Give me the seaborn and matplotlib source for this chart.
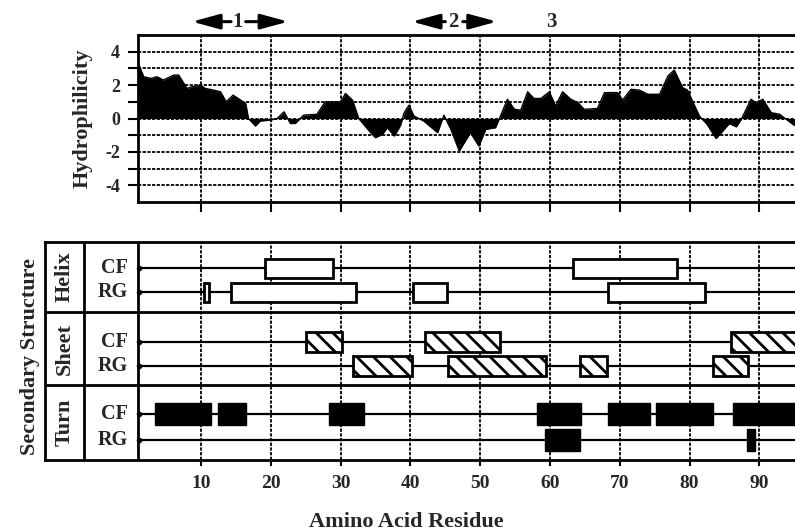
import numpy as np
import pandas as pd
import matplotlib
matplotlib.use("Agg")
import matplotlib.pyplot as plt
import seaborn as sns

# ---------------- data ----------------
residue = [1.0, 1.8, 2.8, 3.7, 4.6, 6.1, 6.8, 8.0, 8.7, 9.9, 10.6, 11.8, 12.8, 13.6,
           14.6, 16.4, 16.8, 17.8, 18.5, 19.9, 20.9, 21.9, 22.8, 23.5, 24.7, 26.6,
           27.8, 30.0, 30.7, 31.7, 32.6, 34.1, 35.0, 36.0, 36.7, 37.7, 38.6, 39.1,
           39.8, 40.5, 41.9, 43.9, 44.8, 45.8, 47.0, 48.6, 49.8, 50.8, 52.2, 53.9,
           54.9, 55.8, 56.8, 57.7, 58.7, 59.9, 60.8, 61.8, 63.0, 64.0, 64.9, 66.8,
           67.8, 69.7, 70.4, 71.6, 72.8, 74.0, 75.7, 76.9, 77.8, 79.0, 79.7, 81.4,
           82.5, 83.8, 85.7, 86.7, 87.4, 88.8, 89.5, 90.5, 91.7, 92.9, 94.8, 95.2]
hydrophilicity = [3.3, 2.5, 2.4, 2.5, 2.3, 2.6, 2.6, 1.8, 1.9, 2.0, 1.8, 1.7, 1.6, 1.0,
                  1.4, 0.9, 0.0, -0.45, -0.15, -0.1, 0.0, 0.4, -0.3, -0.3, 0.2, 0.25,
                  1.0, 1.0, 1.5, 1.1, 0.0, -0.75, -1.15, -0.95, -0.55, -1.05, -0.4, 0.35,
                  0.8, 0.15, -0.15, -0.85, 0.2, -0.65, -1.95, -0.85, -1.65, -0.65, -0.55, 1.15,
                  0.55, 0.5, 1.6, 1.2, 1.2, 1.6, 0.75, 1.6, 1.15, 0.95, 0.55, 0.6,
                  1.55, 1.55, 1.1, 1.75, 1.7, 1.45, 1.45, 2.55, 2.9, 1.85, 1.7, 0.15,
                  -0.35, -1.2, -0.3, -0.5, -0.05, 1.15, 0.95, 1.15, 0.35, 0.25, -0.35, -0.45]

helix_cf = [(19.2, 28.9), (63.3, 78.2)]
helix_rg = [(10.4, 11.2), (14.3, 32.2), (40.4, 45.2), (68.3, 82.2)]
sheet_cf = [(25.1, 30.2), (42.1, 52.8), (85.9, 97.0)]
sheet_rg = [(31.8, 40.2), (45.4, 59.4), (64.3, 68.2), (83.4, 88.3)]
turn_cf = [(3.4, 11.5), (12.4, 16.4), (28.3, 33.3), (58.1, 64.4), (68.3, 74.3),
           (75.2, 83.3), (86.2, 97.0)]
turn_rg = [(59.3, 64.3), (88.2, 89.3)]

x_ticks = [10, 20, 30, 40, 50, 60, 70, 80, 90]
y_ticks = [-4, -3, -2, -1, 0, 1, 2, 3, 4]
y_ticklabels = ["-4", "", "-2", "", "0", "", "2", "", "4"]

segment_labels = ["1", "2", "3"]
segment_centers = [15.3, 46.2, 60.2]
segment_left = [(8.7, 14.3), (40.2, 45.0), None]
segment_right = [(16.4, 22.5), (47.5, 52.4), None]

section_names = ["Helix", "Sheet", "Turn"]
method_names = ["CF", "RG"]

# ---------------- style ----------------
sns.set_theme(style="ticks")
plt.rcParams["font.family"] = ["Liberation Serif", "DejaVu Serif"]
plt.rcParams["font.weight"] = "bold"
plt.rcParams["hatch.linewidth"] = 2.0
plt.rcParams["hatch.color"] = "black"

W, H = 795, 531
fig = plt.figure(figsize=(W / 100, H / 100), dpi=100)
fig.patch.set_facecolor("white")

XMIN_TOP, XMAX = 0.97, 95.1
XMIN_BOT = -12.35
grid_ls = (0, (1.8, 0.8))

# ---------------- top panel ----------------
ax1 = fig.add_axes([138 / W, (H - 202) / H, (W - 138) / W, 167 / H])
for y in y_ticks:
    ax1.axhline(y, color="black", lw=1.3, ls=grid_ls, zorder=1)
for x in x_ticks:
    ax1.axvline(x, color="black", lw=1.3, ls=grid_ls, zorder=1)

df = pd.DataFrame({"Residue": residue, "Hydrophilicity": hydrophilicity})
sns.lineplot(data=df, x="Residue", y="Hydrophilicity", ax=ax1, color="black",
             lw=1.0, zorder=3)
ax1.fill_between(df["Residue"], 0, df["Hydrophilicity"], color="black", lw=0, zorder=3)

ax1.set_xlim(XMIN_TOP, XMAX)
ax1.set_ylim(-5, 5)
ax1.set_xticks(x_ticks)
ax1.set_xticklabels([])
ax1.set_yticks(y_ticks)
ax1.set_yticklabels(y_ticklabels, fontsize=13, fontweight="bold")
ax1.tick_params(axis="both", direction="out", length=7, width=1.5, color="black",
                bottom=True, left=True, pad=6)
ax1.set_xlabel("")
ax1.set_ylabel("Hydrophilicity", fontsize=16, fontweight="bold")
ax1.yaxis.set_label_coords((83 - 138) / (W - 138), 0.5)
ax1.yaxis.label.set_va("center")
for s in ["top", "left", "bottom"]:
    ax1.spines[s].set_linewidth(2)
    ax1.spines[s].set_color("black")
ax1.spines["right"].set_visible(False)

y_seg = 5.8
for lab, cx, lft, rgt in zip(segment_labels, segment_centers, segment_left, segment_right):
    ax1.text(cx, y_seg, lab, ha="center", va="center", fontsize=15,
             fontweight="bold", clip_on=False)
    for seg in (lft, rgt):
        if seg is None:
            continue
        a, b = seg
        if seg is lft:
            tip, tail = a, b
        else:
            tip, tail = b, a
        ax1.annotate("", xy=(tip, y_seg), xytext=(tail, y_seg),
                     arrowprops=dict(arrowstyle="-|>,head_length=1.4,head_width=0.38",
                                     lw=2.2, color="black", shrinkA=0, shrinkB=0),
                     annotation_clip=False)

# ---------------- bottom panel ----------------
ax2 = fig.add_axes([45 / W, (H - 460) / H, (W - 45) / W, 218.3 / H])
ax2.set_xlim(XMIN_BOT, XMAX)
ax2.set_ylim(0, 3)

for x in x_ticks:
    ax2.axvline(x, color="black", lw=1.3, ls=grid_ls, zorder=1)

div_x = [-6.76, XMIN_TOP]
for x in div_x:
    ax2.axvline(x, color="black", lw=2, zorder=2)
sec_bounds = [(2.03, 3.0), (1.03, 2.03), (0.0, 1.03)]
for lo, hi in sec_bounds[:2]:
    ax2.axhline(lo, color="black", lw=2, zorder=2)

row_y = {"Helix": (2.635, 2.302), "Sheet": (1.624, 1.293), "Turn": (0.631, 0.275)}
intervals = {"Helix": (helix_cf, helix_rg), "Sheet": (sheet_cf, sheet_rg),
             "Turn": (turn_cf, turn_rg)}
box_h = {"Helix": 0.26, "Sheet": 0.28, "Turn": 0.30}

for name, (lo, hi) in zip(section_names, sec_bounds):
    ax2.text(-9.5, (lo + hi) / 2, name, rotation=90, ha="center", va="center",
             fontsize=16, fontweight="bold")
    for meth, yy, ints in zip(method_names, row_y[name], intervals[name]):
        ax2.text(-0.45, yy, meth, ha="right", va="center", fontsize=14.5,
                 fontweight="bold")
        ax2.hlines(yy, XMIN_TOP, XMAX, color="black", lw=1.6, zorder=2)
        ax2.plot([XMIN_TOP + 0.15], [yy], marker="o", ms=3, color="black", zorder=3,
                 clip_on=False)
        starts = [a for a, b in ints]
        widths = [b - a for a, b in ints]
        if name == "Helix":
            ax2.barh([yy] * len(ints), widths, left=starts, height=box_h[name],
                     color="white", edgecolor="black", linewidth=2, zorder=4)
        elif name == "Sheet":
            ax2.barh([yy] * len(ints), widths, left=starts, height=box_h[name],
                     color="white", edgecolor="black", linewidth=2, hatch="\\\\",
                     zorder=4)
        else:
            ax2.barh([yy] * len(ints), widths, left=starts, height=box_h[name],
                     color="black", edgecolor="black", linewidth=1, zorder=4)

ax2.set_xticks(x_ticks)
ax2.set_xticklabels([str(t) for t in x_ticks], fontsize=14, fontweight="bold")
ax2.set_yticks([])
ax2.tick_params(axis="x", direction="out", length=4, width=1.5, color="black",
                bottom=True, pad=7)
for s in ["top", "left", "bottom"]:
    ax2.spines[s].set_linewidth(2)
    ax2.spines[s].set_color("black")
ax2.spines["right"].set_visible(False)

ax2.set_ylabel("Secondary Structure", fontsize=16, fontweight="bold")
ax2.yaxis.set_label_coords((30 - 45) / (W - 45), 0.475)
ax2.yaxis.label.set_va("center")
ax2.set_xlabel("Amino Acid Residue", fontsize=16, fontweight="bold")
ax2.xaxis.set_label_coords((406 - 45) / (W - 45), (460 - 522) / 218.3)
ax2.xaxis.label.set_va("center")

fig.savefig("out.png", dpi=100, facecolor="white")
